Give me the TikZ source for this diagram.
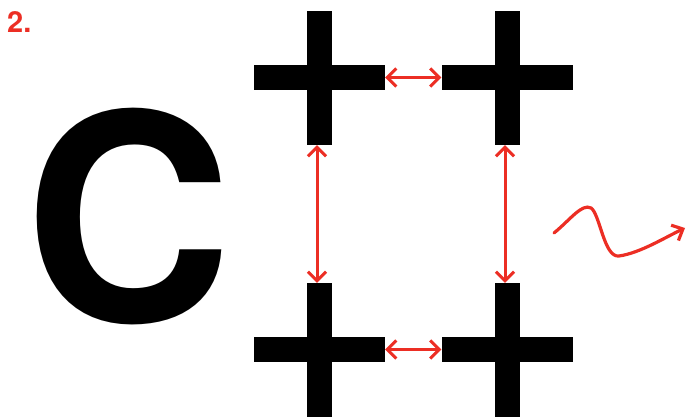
\documentclass[tikz,border=0pt]{standalone}
\usepackage{fontspec}
\setmainfont{TeX Gyre Heros}
\usetikzlibrary{arrows.meta}
\definecolor{markred}{RGB}{236,46,36}
\tikzset{
  hbar/.style={fill=black, inner sep=0pt, minimum width=131pt, minimum height=25pt},
  vbar/.style={fill=black, inner sep=0pt, minimum width=25pt, minimum height=134pt},
  link/.style={draw=markred, line width=3pt, {Straight Barb[length=9pt,width=18pt,line width=3pt]}-{Straight Barb[length=9pt,width=18pt,line width=3pt]}},
  wave/.style={draw=markred, line width=3.2pt, line cap=round, -{Straight Barb[length=9pt,width=17pt,line width=3.2pt]}}
}
\begin{document}
\begin{tikzpicture}[x=1pt,y=-1pt]
\useasboundingbox (0,0) rectangle (686,417);
% label and letter
\node[anchor=north west, inner sep=0pt, text=markred, font=\bfseries\fontsize{29}{29}\selectfont] (num) at (7,11) {2.};
\node[anchor=center, inner sep=0pt, font=\bfseries\fontsize{288}{288}\selectfont] (letter) at (128,216.5) {C};
% plus signs
\node[vbar] (tlv) at (319.5,78) {};
\node[hbar] (tlh) at (319.5,77.5) {};
\node[vbar] (trv) at (507,78) {};
\node[hbar] (trh) at (507,77.5) {};
\node[vbar] (blv) at (319.5,350) {};
\node[hbar] (blh) at (319.5,349.5) {};
\node[vbar] (brv) at (507,350) {};
\node[hbar] (brh) at (507,349.5) {};
% connectors
\draw[link] (tlh.east) -- (trh.west);
\draw[link] (blh.east) -- (brh.west);
\draw[link] ([xshift=-2.5pt]tlv.south) -- ([xshift=-2.5pt]blv.north);
\draw[link] ([xshift=-2pt]trv.south) -- ([xshift=-2pt]brv.north);
% squiggle
\coordinate (ws) at (554,233);
\coordinate (we) at (685,228);
\draw[wave] (ws) .. controls (570,220) and (582,203) .. (591,208)
  .. controls (600,214) and (604,258) .. (619,256)
  .. controls (640,253) and (664,238) .. (we);
\end{tikzpicture}
\end{document}
